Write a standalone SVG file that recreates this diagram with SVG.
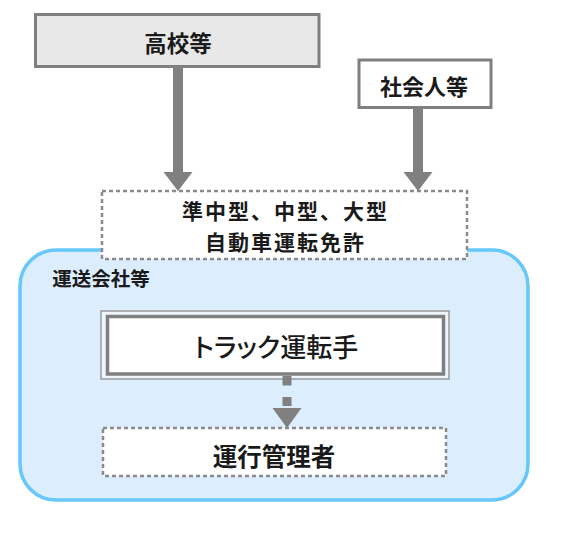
<svg xmlns="http://www.w3.org/2000/svg" width="570" height="538" viewBox="0 0 570 538">
<style>
  text { font-family: "Noto Sans CJK JP", "Noto Sans", sans-serif; fill: #1a1a1a; text-anchor: middle; dominant-baseline: central; }
  .b { font-weight: bold; }
  .gbox { stroke: #7f7f7f; stroke-width: 3; }
  .dot { fill: #ffffff; stroke: #8a8a8a; stroke-width: 2.5; stroke-dasharray: 4 3; }
  .arrow { fill: #808080; stroke: none; }
</style>
<rect width="570" height="538" fill="#ffffff"/>

<g id="company">
  <rect x="20" y="250" width="508" height="250" rx="36" ry="36" fill="#dcedfd" stroke="#66c8fa" stroke-width="3.5"/>
  <text class="b" x="101" y="277" font-size="19.5">運送会社等</text>
</g>

<g id="school">
  <rect class="gbox" x="35.5" y="14.5" width="283.5" height="52" fill="#e8e8e8"/>
  <text class="b" x="178" y="42" font-size="22.5">高校等</text>
</g>

<g id="adult">
  <rect class="gbox" x="359" y="60" width="132" height="47.5" fill="#ffffff"/>
  <text class="b" x="424" y="84.5" font-size="22">社会人等</text>
</g>

<g id="license">
  <rect class="dot" x="102" y="191" width="365" height="68"/>
  <text class="b" x="285.5" y="210" font-size="21" letter-spacing="2">準中型、中型、大型</text>
  <text class="b" x="285.5" y="241" font-size="21" letter-spacing="2">自動車運転免許</text>
</g>

<g id="driver">
  <rect x="101" y="311" width="348" height="68" fill="#eef5fc" stroke="#9a9a9a" stroke-width="1.5"/>
  <rect x="107.5" y="316.5" width="336" height="57.5" fill="#ffffff" stroke="#7f7f7f" stroke-width="3.5"/>
  <text x="276" y="345" font-size="26" font-weight="500" style="font-feature-settings:'palt'">トラック運転手</text>
</g>

<g id="manager">
  <rect class="dot" x="103" y="428" width="343" height="48"/>
  <text class="b" x="274" y="455" font-size="24.5">運行管理者</text>
</g>

<g id="connectors">
  <path class="arrow" d="M173 66.5 H183 V172 H192.5 L178 191 L163.5 172 H173 Z"/>
  <path class="arrow" d="M413 107.5 H423 V172 H432.5 L418 191 L403.5 172 H413 Z"/>
  <rect class="arrow" x="282.5" y="376" width="9" height="9.5"/>
  <rect class="arrow" x="282.5" y="397" width="9" height="9"/>
  <path class="arrow" d="M272.5 408 H301.5 L287 428 Z"/>
</g>
</svg>
